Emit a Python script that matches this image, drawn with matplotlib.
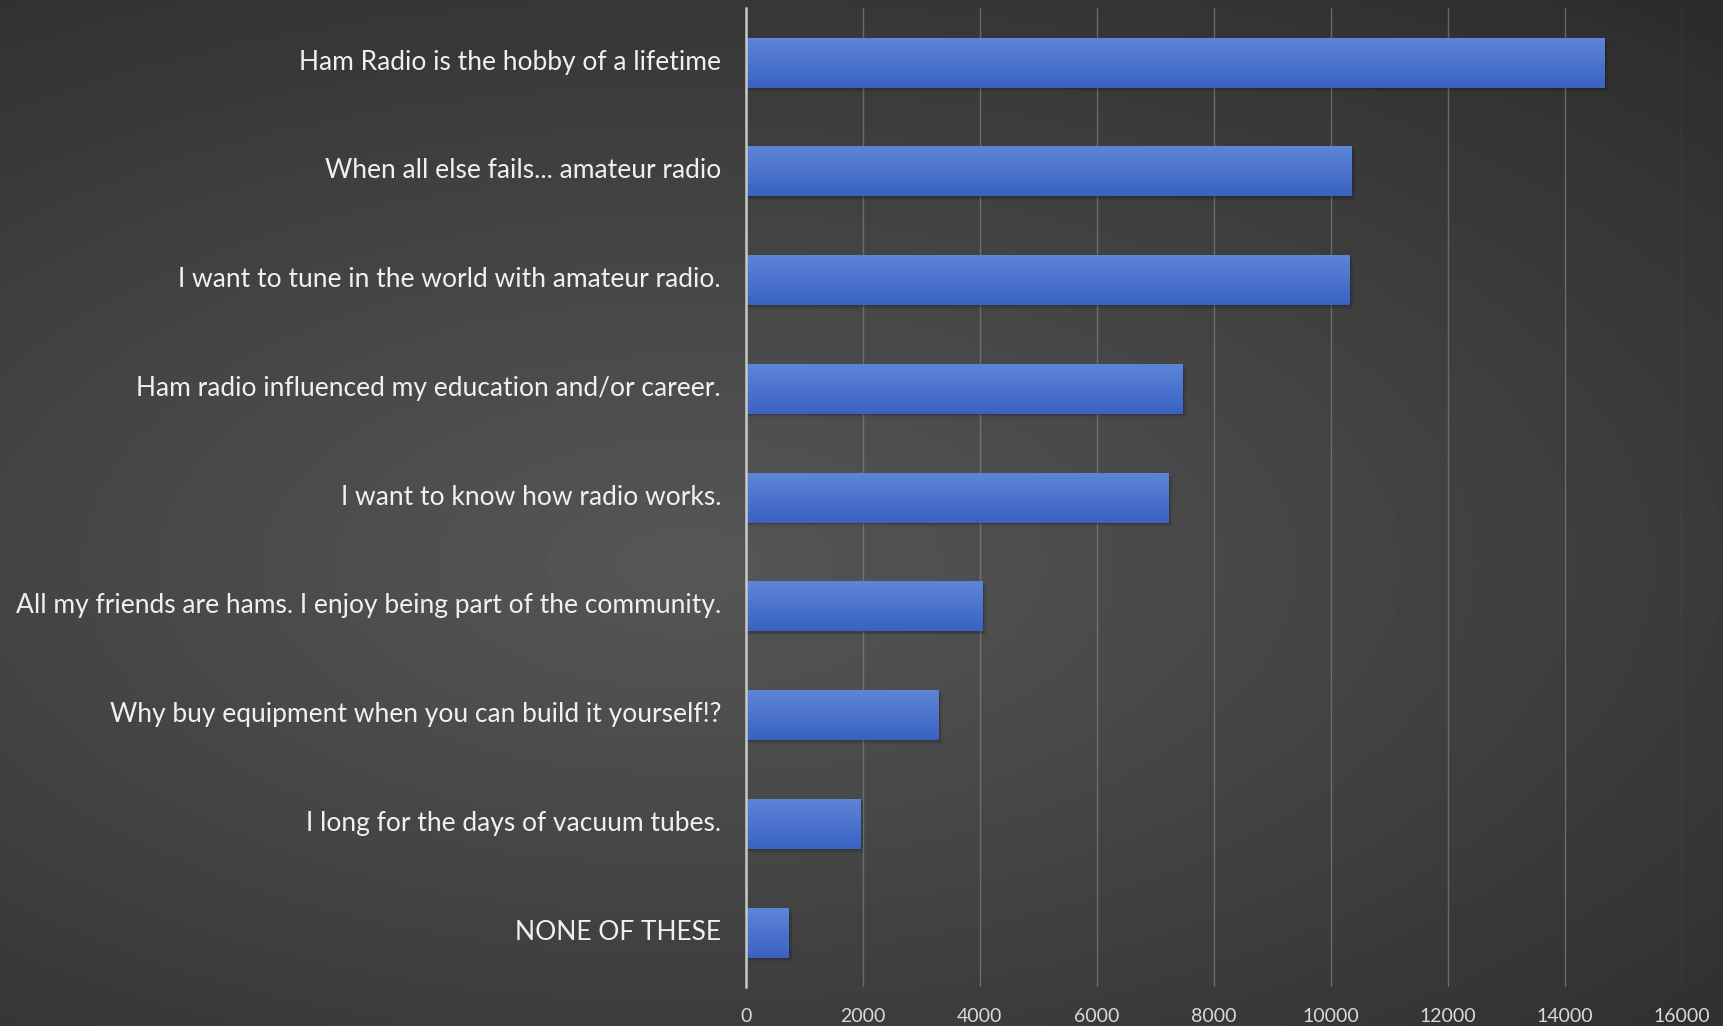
import numpy as np
import matplotlib.pyplot as plt
import matplotlib.transforms as mtransforms
from matplotlib.patches import Rectangle
from matplotlib.colors import LinearSegmentedColormap

categories = [
    "Ham Radio is the hobby of a lifetime",
    "When all else fails... amateur radio",
    "I want to tune in the world with amateur radio.",
    "Ham radio influenced my education and/or career.",
    "I want to know how radio works.",
    "All my friends are hams. I enjoy being part of the community.",
    "Why buy equipment when you can build it yourself!?",
    "I long for the days of vacuum tubes.",
    "NONE OF THESE",
]
values = [14680, 10360, 10320, 7460, 7220, 4040, 3290, 1950, 730]
xticks = [0, 2000, 4000, 6000, 8000, 10000, 12000, 14000, 16000]

plt.rcParams['font.family'] = ['Lato', 'DejaVu Sans']

fig = plt.figure(figsize=(17.23, 10.26), dpi=100)

# radial grey background
bg = fig.add_axes([0, 0, 1, 1])
yy, xx = np.mgrid[0:1:300j, 0:1:500j]
r = np.sqrt(((xx - 0.40) / 0.9) ** 2 + ((yy - 0.45) / 0.75) ** 2)
shade = np.clip(0.34 - 0.17 * r, 0.16, 0.34)
bg.imshow(shade, cmap='gray', vmin=0, vmax=1, extent=[0, 1, 0, 1],
          aspect='auto', origin='lower')
bg.axis('off')

ax = fig.add_axes([0.433, 0.038, 0.543, 0.954])
ax.patch.set_alpha(0)

y = np.arange(len(categories))
bars = ax.barh(y, values, height=0.46, color='#4673cf', zorder=3, linewidth=0)

# soft shadow + vertical gradient (lighter on top)
grad = np.linspace(0, 1, 100).reshape(-1, 1)
bcmap = LinearSegmentedColormap.from_list('b', ['#5d86d8', '#3a62c2'])
for b in bars:
    x0, y0, w, h = b.get_x(), b.get_y(), b.get_width(), b.get_height()
    for k, a in [(1, 0.12), (2, 0.08), (3, 0.05)]:
        ax.add_patch(Rectangle((x0, y0 + 0.012 * k), w + 25 * k, h, color='black',
                               alpha=a, zorder=2, lw=0))
    im = ax.imshow(grad, cmap=bcmap, extent=[x0, x0 + w, y0 + h, y0],
                   aspect='auto', zorder=4, origin='upper')
    im.set_clip_path(b)

ax.set_xlim(0, 16000)
ax.set_ylim(len(categories) - 0.5, -0.5)
ax.set_xticks(xticks)
ax.set_xticklabels([str(t) for t in xticks])
ax.set_yticks(y)
ax.set_yticklabels(categories)
ax.tick_params(axis='y', length=0, pad=18, labelsize=19, labelcolor='#f0f0f0')
ax.tick_params(axis='x', length=0, pad=15, labelsize=14, labelcolor='#d9d9d9')
up = mtransforms.ScaledTranslation(0, 3 / 100, fig.dpi_scale_trans)
for lab in ax.get_yticklabels():
    lab.set_transform(lab.get_transform() + up)
ax.grid(axis='x', color='#8a8a8a', linewidth=1, alpha=0.6, zorder=0)
for s in ['top', 'right', 'bottom']:
    ax.spines[s].set_visible(False)
ax.spines['left'].set_color('#c8c8c8')
ax.spines['left'].set_linewidth(1.8)
ax.spines['left'].set_zorder(5)

plt.savefig('out.png', dpi=100)
